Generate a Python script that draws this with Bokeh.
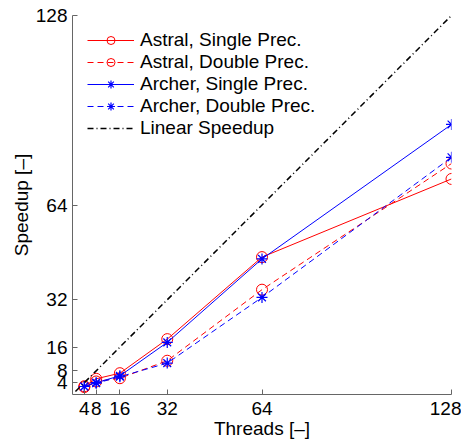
from bokeh.plotting import figure
from bokeh.models import Legend, LegendItem, FixedTicker
from bokeh.embed import file_html
from bokeh.resources import INLINE

threads = [4, 8, 16, 32, 64, 128]
astral_single = [2.8, 5.3, 7.2, 18.7, 46.4, 72.8]
astral_double = [2.5, 4.4, 5.5, 11.4, 35.4, 78.0]
archer_single = [2.7, 4.0, 6.3, 17.6, 45.8, 91.2]
archer_double = [2.7, 3.8, 6.0, 10.6, 32.8, 80.1]
linear_x = [1, 128]
linear_y = [1, 128]
x_ticks = [4, 8, 16, 32, 64, 128]
y_ticks = [4, 8, 16, 32, 64, 128]

FONT = "Liberation Sans"
RED = "#ff0000"
BLUE = "#0000ff"

p = figure(frame_width=379, frame_height=379, x_range=(0, 128), y_range=(0, 128),
           output_backend="svg", toolbar_location=None,
           min_border_left=72, min_border_right=10, min_border_top=15, min_border_bottom=38)
p.outline_line_color = None
p.grid.visible = False
p.background_fill_color = "white"

for ax in (p.xaxis[0], p.yaxis[0]):
    ax.ticker = FixedTicker(ticks=x_ticks)
    ax.major_tick_in = 5
    ax.major_tick_out = 0
    ax.minor_tick_line_color = None
    ax.axis_line_color = "#666666"
    ax.major_tick_line_color = "#666666"
    ax.major_label_text_font = FONT
    ax.major_label_text_font_size = "19px"
    ax.major_label_text_color = "black"
    ax.axis_label_text_font = FONT
    ax.axis_label_text_font_size = "19px"
    ax.axis_label_text_font_style = "normal"
    ax.axis_label_text_color = "black"
p.yaxis[0].ticker = FixedTicker(ticks=y_ticks)
p.xaxis.axis_label = "Threads [–]"
p.yaxis.axis_label = "Speedup [–]"
p.xaxis.axis_label_standoff = 0
p.yaxis.axis_label_standoff = 1
p.xaxis.major_label_standoff = 7

r1 = p.line(threads, astral_single, line_color=RED, line_width=1)
m1 = p.scatter(threads, astral_single, marker="circle", size=11, fill_color=None, line_color=RED, line_width=1)
r2 = p.line(threads, astral_double, line_color=RED, line_width=1, line_dash="6 4")
m2 = p.scatter(threads, astral_double, marker="circle", size=11, fill_color=None, line_color=RED, line_width=1)
r3 = p.line(threads, archer_single, line_color=BLUE, line_width=1)
m3 = p.scatter(threads, archer_single, marker="asterisk", size=11, line_color=BLUE, line_width=1.2)
r4 = p.line(threads, archer_double, line_color=BLUE, line_width=1, line_dash="6 4")
m4 = p.scatter(threads, archer_double, marker="asterisk", size=11, line_color=BLUE, line_width=1.2)
r5 = p.line(linear_x, linear_y, line_color="black", line_width=1.5, line_dash="6 3 1 3")

legend = Legend(items=[
    LegendItem(label="Astral, Single Prec.", renderers=[r1, m1]),
    LegendItem(label="Astral, Double Prec.", renderers=[r2, m2]),
    LegendItem(label="Archer, Single Prec.", renderers=[r3, m3]),
    LegendItem(label="Archer, Double Prec.", renderers=[r4, m4]),
    LegendItem(label="Linear Speedup", renderers=[r5]),
], location=(15, 255))
legend.border_line_color = None
legend.background_fill_alpha = 0
legend.padding = 5
legend.spacing = 0
legend.glyph_width = 47
legend.glyph_height = 20
legend.label_height = 20
legend.label_standoff = 6
legend.label_text_font = FONT
legend.label_text_font_size = "19px"
legend.label_text_color = "black"
p.add_layout(legend, "center")

open("out.html", "w").write(file_html(p, INLINE))
